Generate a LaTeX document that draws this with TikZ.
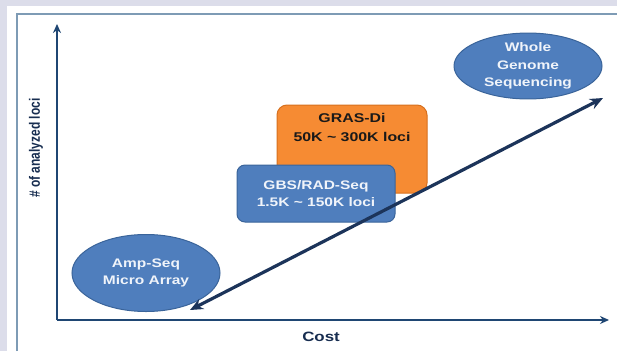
\documentclass[tikz,border=0pt]{standalone}
\usepackage{fontspec}
\setmainfont{Liberation Sans}[FakeStretch=1.25]
\newfontfamily\ylabfont{Liberation Sans}
\usetikzlibrary{arrows.meta,positioning,shapes.geometric}
\definecolor{lavender}{RGB}{220,221,234}
\definecolor{frameblue}{RGB}{126,155,181}
\definecolor{axisblue}{RGB}{31,70,115}
\definecolor{darknavy}{RGB}{28,52,90}
\definecolor{boxblue}{RGB}{79,126,189}
\definecolor{boxblueedge}{RGB}{58,100,154}
\definecolor{boxorange}{RGB}{246,139,51}
\definecolor{boxorangeedge}{RGB}{215,112,30}
\definecolor{labelnavy}{RGB}{23,45,80}
\definecolor{paletext}{RGB}{240,244,250}
\begin{document}
\begin{tikzpicture}[x=1pt, y=-1pt, font=\bfseries,
  bluething/.style={fill=boxblue, draw=boxblueedge, line width=1pt, text=paletext, align=center},
  axislabel/.style={text=labelnavy, font=\fontsize{13.5}{16}\selectfont\bfseries}]

\useasboundingbox (0,0) rectangle (617,351);
\fill[lavender](0,0) rectangle (617,351);
\fill[white](7,6) rectangle (617,351);
\draw[frameblue, line width=2pt](17,351)--(17,14)--(617,14);

% axes
\coordinate(O) at (57,320);
\coordinate(Y) at (57,24);
\coordinate(X) at (609,320);
\draw[-{Stealth[length=9pt,width=8pt]}, axisblue, line width=2pt](O)--(Y);
\draw[-{Stealth[length=9pt,width=8pt]}, axisblue, line width=2pt](O)--(X);
\node(C) at (321,337)[axislabel]{Cost};
\node(L) at (36,148)[axislabel, xscale=1.25, rotate=90, font=\ylabfont\fontsize{12}{14}\selectfont\bfseries]{\# of analyzed loci};

% methods
\node(W) at (528,66)[ellipse, bluething, minimum width=148pt, minimum height=56pt, inner sep=0pt,
  font=\fontsize{12.4}{17.5}\selectfont\bfseries]{Whole\\Genome\\Sequencing};
\node(A) at (146,273)[ellipse, bluething, minimum width=148pt, minimum height=77pt, inner sep=0pt,
  font=\fontsize{12.4}{17}\selectfont\bfseries]{Amp-Seq\\Micro Array};

\node(G) at (352,149)[rectangle, rounded corners=10pt, fill=boxorange, draw=boxorangeedge, line width=1pt,
  minimum width=150pt, minimum height=88pt]{};
\node(T) [below=5pt of G.north, align=center, text=black!90, font=\fontsize{12.7}{19}\selectfont\bfseries]{GRAS-Di\\50K \textasciitilde{} 300K loci};

\node(R) at (316,193.5)[rectangle, rounded corners=8pt, bluething, minimum width=158pt, minimum height=57pt,
  font=\fontsize{12.4}{17}\selectfont\bfseries]{GBS/RAD-Seq\\1.5K \textasciitilde{} 150K loci};

% trend
\coordinate(P) at (190,310);
\coordinate(Q) at (603,98);
\draw[{Stealth[length=13pt,width=11pt]}-{Stealth[length=13pt,width=11pt]}, darknavy, line width=3.2pt](P)--(Q);

\end{tikzpicture}
\end{document}
